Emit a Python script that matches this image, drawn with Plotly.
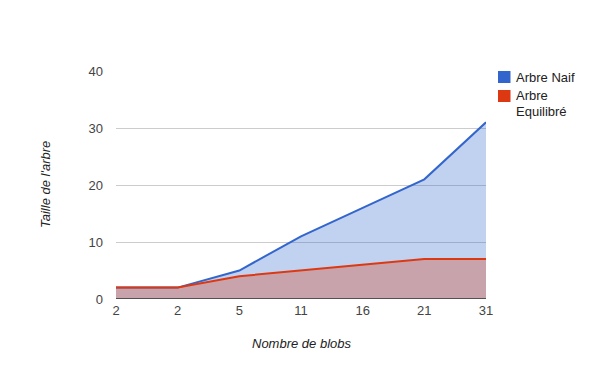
import plotly.graph_objects as go

categories = ["2", "2", "5", "11", "16", "21", "31"]
naif = [2, 2, 5, 11, 16, 21, 31]
equilibre = [2, 2, 4, 5, 6, 7, 7]
y_ticks = [0, 10, 20, 30, 40]

series_names = ["Arbre Naif", "Arbre Equilibré"]
line_colors = ["#3366cc", "#dc3912"]
fill_colors = ["rgba(51,102,204,0.3)", "rgba(220,57,18,0.3)"]

xs = list(range(len(categories)))
FONT = "Liberation Sans, Arial, sans-serif"

# plot area in pixels: left 116, right 486, top 71, bottom 299
L, R, T, B = 116, 486, 71, 299
def px(x):
    return (x - L) / (R - L)
def py(y):
    return (B - y) / (B - T)

fig = go.Figure()
for name, vals, lc, fc in zip(series_names, [naif, equilibre], line_colors, fill_colors):
    fig.add_trace(go.Scatter(x=xs, y=vals, mode="lines", fill="tozeroy", name=name,
                             line=dict(color=lc, width=2), fillcolor=fc,
                             showlegend=False, hoverinfo="skip"))

# legend drawn manually to match the Google-style legend
legend_shapes = []
legend_annots = []
sq_tops = [71, 90]
for i, lc in enumerate(line_colors):
    legend_shapes.append(dict(type="rect", xref="paper", yref="paper",
                              x0=px(498), x1=px(510.5), y0=py(sq_tops[i] + 12), y1=py(sq_tops[i]),
                              fillcolor=lc, line=dict(width=0)))
legend_lines = [("Arbre Naif", 77), ("Arbre", 95.5), ("Equilibré", 111.5)]
for txt, yc in legend_lines:
    legend_annots.append(dict(text=txt, xref="paper", yref="paper", x=px(514), y=py(yc),
                              xanchor="left", yanchor="middle", showarrow=False,
                              font=dict(size=13, color="#222")))

fig.update_layout(
    width=600, height=371,
    margin=dict(l=L, r=600 - R, t=T, b=371 - B, autoexpand=False),
    paper_bgcolor="white", plot_bgcolor="white",
    font=dict(family=FONT, size=13, color="#222"),
    showlegend=False,
    xaxis=dict(tickmode="array", tickvals=xs, ticktext=categories,
               range=[0, len(categories) - 1], showgrid=False, zeroline=False,
               showline=False, ticks="", tickfont=dict(size=13, color="#444"),
               ticklabelstandoff=2, automargin=False, fixedrange=True),
    yaxis=dict(tickvals=y_ticks, range=[0, 40], showgrid=True, gridcolor="#cccccc",
               zeroline=False, showline=False, ticks="",
               tickfont=dict(size=13, color="#444"), ticklabelstandoff=12,
               automargin=False, fixedrange=True),
    annotations=[
        dict(text="<i>Taille de l'arbre</i>", xref="paper", yref="paper",
             x=px(45), y=py(185), xanchor="center", yanchor="middle",
             textangle=-90, showarrow=False, font=dict(size=13, color="#222")),
        dict(text="<i>Nombre de blobs</i>", xref="paper", yref="paper",
             x=0.5, y=py(343), xanchor="center", yanchor="middle",
             showarrow=False, font=dict(size=13, color="#222")),
    ] + legend_annots,
    shapes=[dict(type="line", xref="paper", yref="y", x0=0, x1=1, y0=0, y1=0,
                 line=dict(color="#333333", width=1.5), layer="above")] + legend_shapes,
)

fig.write_html("out.html", config={"displayModeBar": False},
               post_script="document.body.style.margin='0';document.body.style.overflow='hidden';")
